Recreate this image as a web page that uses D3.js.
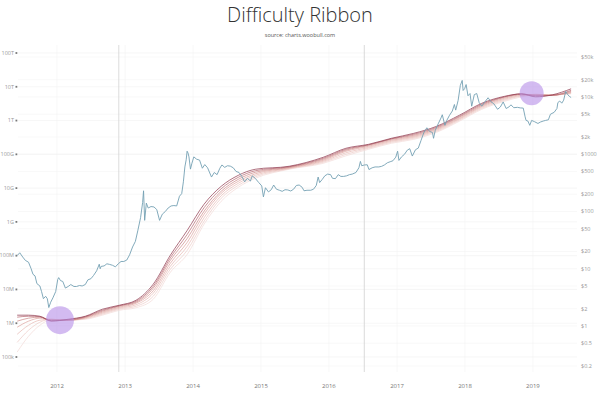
<!DOCTYPE html>
<html>
<head>
<meta charset="utf-8">
<script src="https://cdn.jsdelivr.net/npm/d3@7"></script>
<style>
  html, body { margin: 0; padding: 0; background: #fff; }
  svg { display: block; font-family: "Open Sans", "Noto Sans", sans-serif; }
</style>
</head>
<body>
<div id="chart"></div>
<script>
// year labels on the x axis
const years = [2012, 2013, 2014, 2015, 2016, 2017, 2018, 2019];
const halvings = ['2012-11-28', '2016-07-09'];

// left axis: difficulty ticks
const diffTicks = [1e5, 1e6, 1e7, 1e8, 1e9, 1e10, 1e11, 1e12, 1e13, 1e14];
const diffLabels = ['100k', '1M', '10M', '100M', '1G', '10G', '100G', '1T', '10T', '100T'];

// right axis: price ticks
const priceTicks = [0.2, 0.5, 1, 2, 5, 10, 20, 50, 100, 200, 500, 1000, 2000, 5000, 1e4, 2e4, 5e4];
const priceLabels = ['$0.2', '$0.5', '$1', '$2', '$5', '$10', '$20', '$50', '$100', '$200', '$500',
  '$1000', '$2k', '$5k', '$10k', '$20k', '$50k'];

// BTC price (USD)
const priceData = [
  ['2011-06-01', 17], ['2011-06-15', 19], ['2011-07-01', 16], ['2011-07-15', 14], ['2011-08-01', 13],
  ['2011-08-15', 10], ['2011-08-25', 8], ['2011-09-05', 7.5], ['2011-09-15', 5.5], ['2011-10-01', 5],
  ['2011-10-10', 4], ['2011-10-20', 3], ['2011-11-01', 3.3], ['2011-11-10', 3], ['2011-11-18', 2.1],
  ['2011-11-28', 2.6], ['2011-12-10', 3.1], ['2011-12-25', 4], ['2012-01-05', 6.5], ['2012-01-10', 7],
  ['2012-01-20', 6.2], ['2012-02-01', 6], ['2012-02-15', 4.6], ['2012-03-01', 4.9], ['2012-03-15', 5.3],
  ['2012-04-01', 4.9], ['2012-04-15', 4.9], ['2012-05-01', 5.1], ['2012-05-15', 5], ['2012-06-01', 5.3],
  ['2012-06-15', 6.4], ['2012-07-01', 6.7], ['2012-07-15', 7.6], ['2012-08-01', 9.2], ['2012-08-15', 12],
  ['2012-08-20', 10], ['2012-08-25', 11], ['2012-09-10', 11.2], ['2012-09-25', 12.2], ['2012-10-10', 11.9],
  ['2012-10-25', 11.5], ['2012-11-10', 10.8], ['2012-11-25', 12.2], ['2012-12-10', 13.4], ['2012-12-25', 13.4],
  ['2013-01-10', 14.2], ['2013-01-25', 17.5], ['2013-02-10', 24], ['2013-02-25', 30], ['2013-03-10', 46],
  ['2013-03-25', 78], ['2013-04-05', 143], ['2013-04-10', 230], ['2013-04-16', 70], ['2013-04-25', 140],
  ['2013-05-05', 115], ['2013-05-20', 122], ['2013-06-05', 120], ['2013-06-20', 108], ['2013-07-05', 70],
  ['2013-07-20', 90], ['2013-08-05', 100], ['2013-08-20', 115], ['2013-09-05', 125], ['2013-09-20', 127],
  ['2013-10-05', 125], ['2013-10-20', 185], ['2013-11-01', 205], ['2013-11-10', 330], ['2013-11-18', 600],
  ['2013-11-25', 800], ['2013-11-30', 1130], ['2013-12-05', 1050], ['2013-12-10', 900], ['2013-12-18', 550],
  ['2013-12-25', 680], ['2014-01-05', 900], ['2014-01-20', 820], ['2014-02-05', 790], ['2014-02-20', 570],
  ['2014-03-05', 660], ['2014-03-20', 580], ['2014-04-10', 400], ['2014-04-25', 480], ['2014-05-10', 440],
  ['2014-05-25', 570], ['2014-06-05', 650], ['2014-06-20', 590], ['2014-07-05', 630], ['2014-07-20', 620],
  ['2014-08-05', 580], ['2014-08-20', 500], ['2014-09-05', 480], ['2014-09-20', 410], ['2014-10-05', 330],
  ['2014-10-20', 380], ['2014-11-05', 340], ['2014-11-15', 420], ['2014-12-01', 380], ['2014-12-20', 320],
  ['2015-01-05', 280], ['2015-01-14', 180], ['2015-01-25', 260], ['2015-02-10', 220], ['2015-02-25', 240],
  ['2015-03-10', 290], ['2015-03-25', 245], ['2015-04-10', 235], ['2015-04-25', 225], ['2015-05-10', 240],
  ['2015-05-25', 238], ['2015-06-10', 228], ['2015-06-25', 245], ['2015-07-10', 285], ['2015-07-25', 290],
  ['2015-08-10', 265], ['2015-08-20', 230], ['2015-09-05', 235], ['2015-09-25', 235], ['2015-10-10', 245],
  ['2015-10-25', 285], ['2015-11-04', 400], ['2015-11-12', 320], ['2015-11-25', 360], ['2015-12-10', 420],
  ['2015-12-25', 450], ['2016-01-10', 440], ['2016-01-20', 380], ['2016-02-05', 375], ['2016-02-20', 440],
  ['2016-03-05', 410], ['2016-03-20', 410], ['2016-04-05', 420], ['2016-04-20', 440], ['2016-05-05', 450],
  ['2016-05-25', 480], ['2016-06-10', 580], ['2016-06-18', 750], ['2016-06-25', 630], ['2016-07-10', 650],
  ['2016-07-25', 655], ['2016-08-03', 540], ['2016-08-20', 580], ['2016-09-05', 600], ['2016-09-25', 600],
  ['2016-10-10', 615], ['2016-10-25', 650], ['2016-11-10', 710], ['2016-11-25', 740], ['2016-12-10', 770],
  ['2016-12-25', 890], ['2017-01-04', 1130], ['2017-01-11', 780], ['2017-01-25', 900], ['2017-02-10', 1000],
  ['2017-02-25', 1180], ['2017-03-10', 1250], ['2017-03-24', 930], ['2017-04-10', 1200], ['2017-04-25', 1280],
  ['2017-05-10', 1750], ['2017-05-25', 2400], ['2017-06-10', 2900], ['2017-06-25', 2500], ['2017-07-10', 2400],
  ['2017-07-16', 1900], ['2017-07-25', 2600], ['2017-08-10', 3400], ['2017-08-25', 4300], ['2017-09-01', 4900],
  ['2017-09-15', 3200], ['2017-09-25', 3900], ['2017-10-10', 4800], ['2017-10-25', 5700], ['2017-11-05', 7400],
  ['2017-11-12', 5900], ['2017-11-25', 8700], ['2017-12-07', 16000], ['2017-12-17', 19500], ['2017-12-22', 13000],
  ['2017-12-30', 14000], ['2018-01-07', 16500], ['2018-01-17', 10500], ['2018-01-28', 11500], ['2018-02-06', 6900],
  ['2018-02-20', 11000], ['2018-03-05', 11500], ['2018-03-18', 8000], ['2018-04-01', 6900], ['2018-04-15', 8000],
  ['2018-05-05', 9700], ['2018-05-20', 8300], ['2018-06-05', 7600], ['2018-06-25', 6100], ['2018-07-10', 6700],
  ['2018-07-25', 8200], ['2018-08-10', 6300], ['2018-08-25', 6700], ['2018-09-05', 7300], ['2018-09-20', 6500],
  ['2018-10-10', 6600], ['2018-10-25', 6450], ['2018-11-10', 6400], ['2018-11-20', 4500], ['2018-11-25', 3900],
  ['2018-12-05', 3800], ['2018-12-15', 3200], ['2018-12-25', 3900], ['2019-01-10', 3700], ['2019-01-28', 3450],
  ['2019-02-10', 3650], ['2019-02-25', 3800], ['2019-03-10', 3900], ['2019-03-25', 4000], ['2019-04-05', 5000],
  ['2019-04-25', 5400], ['2019-05-10', 6300], ['2019-05-15', 8000], ['2019-05-25', 8500], ['2019-06-05', 7800],
  ['2019-06-15', 8800], ['2019-06-26', 12500], ['2019-07-05', 11200], ['2019-07-15', 10300], ['2019-07-25', 9800]
];

// difficulty ribbon: moving averages of difficulty, sampled at these dates
const ribbonDates = ['2011-06-01', '2011-08-01', '2011-10-01', '2011-12-01', '2012-03-01', '2012-06-01',
  '2012-09-01', '2012-12-01', '2013-03-01', '2013-06-01', '2013-09-01', '2013-12-01', '2014-03-01',
  '2014-06-01', '2014-09-01', '2014-12-01', '2015-06-01', '2015-12-01', '2016-04-01', '2016-08-01',
  '2016-12-01', '2017-04-01', '2017-08-01', '2017-12-01', '2018-04-01', '2018-08-01', '2018-11-01',
  '2019-01-15', '2019-04-15', '2019-07-25'];
const ma14 = [1.73e6, 1.73e6, 1.61e6, 1.15e6, 1.31e6, 1.61e6, 2.60e6, 3.41e6, 4.80e6, 14.3e6, 103e6, 565e6,
  3.33e9, 11.3e9, 23.9e9, 36.1e9, 44.3e9, 81.7e9, 151e9, 198e9, 298e9, 419e9, 675e9, 1.43e12, 3.24e12,
  5.21e12, 6.18e12, 5.04e12, 5.77e12, 8.69e12];
const ma25 = [1.51e6, 1.61e6, 1.56e6, 1.19e6, 1.27e6, 1.56e6, 2.42e6, 3.30e6, 4.48e6, 12.4e6, 86.7e6, 430e6,
  2.62e9, 9.55e9, 20.9e9, 32.6e9, 42.8e9, 76.2e9, 141e9, 191e9, 288e9, 392e9, 631e9, 1.33e12, 3.02e12,
  5.04e12, 6.18e12, 5.39e12, 5.58e12, 7.85e12];
const ma40 = [1.15e6, 1.41e6, 1.51e6, 1.23e6, 1.23e6, 1.51e6, 2.27e6, 3.18e6, 4.18e6, 10.9e6, 73.1e6, 327e6,
  2.06e9, 8.05e9, 18.2e9, 29.4e9, 41.3e9, 71.3e9, 132e9, 185e9, 278e9, 366e9, 589e9, 1.25e12, 2.82e12,
  4.87e12, 5.97e12, 5.58e12, 5.58e12, 7.34e12];
const ma60 = [0.76e6, 1.15e6, 1.41e6, 1.27e6, 1.23e6, 1.46e6, 2.12e6, 2.97e6, 3.91e6, 9.16e6, 59.7e6, 249e6,
  1.68e9, 7.03e9, 15.9e9, 26.5e9, 39.9e9, 66.5e9, 123e9, 173e9, 260e9, 341e9, 551e9, 1.16e12, 2.64e12,
  4.55e12, 5.77e12, 5.77e12, 5.58e12, 6.86e12];
const ma90 = [0.47e6, 0.87e6, 1.23e6, 1.31e6, 1.23e6, 1.41e6, 1.98e6, 2.78e6, 3.53e6, 7.73e6, 48.6e6, 190e6,
  1.32e9, 5.93e9, 13.9e9, 23.9e9, 38.6e9, 62.2e9, 111e9, 161e9, 243e9, 319e9, 514e9, 1.09e12, 2.47e12,
  4.25e12, 5.58e12, 5.97e12, 5.77e12, 6.63e12];
const ma128 = [0.27e6, 0.62e6, 1.07e6, 1.31e6, 1.23e6, 1.36e6, 1.85e6, 2.60e6, 3.18e6, 6.30e6, 39.6e6, 145e6,
  1.04e9, 5.00e9, 12.1e9, 21.6e9, 37.3e9, 58.1e9, 100e9, 151e9, 227e9, 298e9, 480e9, 1.02e12, 2.30e12,
  3.97e12, 5.39e12, 5.97e12, 5.77e12, 6.40e12];
const ma200 = [0.14e6, 0.41e6, 0.87e6, 1.27e6, 1.23e6, 1.31e6, 1.73e6, 2.42e6, 2.88e6, 5.13e6, 32.3e6, 110e6,
  0.85e9, 4.07e9, 10.6e9, 19.5e9, 36.1e9, 54.2e9, 90.4e9, 141e9, 212e9, 278e9, 449e9, 0.95e12, 2.15e12,
  3.71e12, 5.04e12, 5.77e12, 5.77e12, 6.18e12];

// highlighted spots (date, difficulty)
const highlights = [['2012-01-17', 1.23e6], ['2018-12-25', 6.4e12]];

const W = 600, H = 393;
const plot = { left: 18, right: 577, top: 45, bottom: 372 };
const parse = d3.timeParse('%Y-%m-%d');

const svg = d3.select('#chart').append('svg')
  .attr('width', W).attr('height', H);

const x = d3.scaleTime()
  .domain([new Date(2012, 0, 1), new Date(2018, 0, 1)])
  .range([57, 465]);
const yDiff = d3.scaleLog().domain([1e5, 1e14]).range([357, 53]);
const yPrice = d3.scaleLog().domain([1, 1e4]).range([326, 97]);

// title
svg.append('text')
  .attr('x', W / 2).attr('y', 22)
  .attr('text-anchor', 'middle')
  .style('font-size', '20px').style('font-weight', 300).style('fill', '#333')
  .text('Difficulty Ribbon');
svg.append('text')
  .attr('x', W / 2).attr('y', 37)
  .attr('text-anchor', 'middle')
  .style('font-size', '5.5px').style('fill', '#555')
  .text('source: charts.woobull.com');

// grid
const grid = svg.append('g');
grid.selectAll('.gd').data(diffTicks).enter().append('line')
  .attr('x1', plot.left).attr('x2', plot.right)
  .attr('y1', d => yDiff(d)).attr('y2', d => yDiff(d))
  .style('stroke', '#f0f0f0').style('stroke-width', 0.6);
grid.selectAll('.gp').data(priceTicks).enter().append('line')
  .attr('x1', plot.left).attr('x2', plot.right)
  .attr('y1', d => yPrice(d)).attr('y2', d => yPrice(d))
  .style('stroke', '#f3f3f3').style('stroke-width', 0.6);
grid.selectAll('.gx').data(years).enter().append('line')
  .attr('x1', d => x(new Date(d, 0, 1))).attr('x2', d => x(new Date(d, 0, 1)))
  .attr('y1', plot.top).attr('y2', plot.bottom)
  .style('stroke', '#f3f3f3').style('stroke-width', 0.6);

// halving markers
svg.selectAll('.halving').data(halvings).enter().append('line')
  .attr('x1', d => x(parse(d))).attr('x2', d => x(parse(d)))
  .attr('y1', plot.top).attr('y2', plot.bottom)
  .style('stroke', '#d2d2d2').style('stroke-width', 0.8);

// left axis labels
const left = svg.append('g');
left.selectAll('text').data(diffTicks).enter().append('text')
  .attr('x', 14).attr('y', d => yDiff(d) + 1.8)
  .attr('text-anchor', 'end')
  .style('font-size', '5.5px').style('fill', '#999')
  .text((d, i) => diffLabels[i]);
left.selectAll('rect').data(diffTicks).enter().append('rect')
  .attr('x', 15.5).attr('y', d => yDiff(d) - 0.9)
  .attr('width', 1.8).attr('height', 1.8)
  .style('fill', '#777');

// right axis labels
svg.append('g').selectAll('text').data(priceTicks).enter().append('text')
  .attr('x', 581).attr('y', d => yPrice(d) + 1.8)
  .style('font-size', '5.5px').style('fill', '#999')
  .text((d, i) => priceLabels[i]);

// year labels
svg.append('g').selectAll('text').data(years).enter().append('text')
  .attr('x', d => x(new Date(d, 0, 1))).attr('y', 388)
  .attr('text-anchor', 'middle')
  .style('font-size', '6px').style('fill', '#777')
  .text(d => d);

// ribbon, slowest average first so the fast one sits on top
const ribbon = [ma200, ma128, ma90, ma60, ma40, ma25, ma14];
const ribbonColors = ['#f2dad7', '#edcac6', '#e6b7b2', '#dca19c', '#cc8685', '#b4636b', '#8c3349'];
const diffLine = d3.line()
  .x(d => x(d[0]))
  .y(d => yDiff(d[1]))
  .curve(d3.curveMonotoneX);
const ribbonDatesParsed = ribbonDates.map(parse);

svg.append('g').selectAll('path').data(ribbon).enter().append('path')
  .attr('d', vals => diffLine(vals.map((v, i) => [ribbonDatesParsed[i], v])))
  .style('fill', 'none')
  .style('stroke', (d, i) => ribbonColors[i])
  .style('stroke-width', 0.7);

// price
const priceLine = d3.line()
  .x(d => x(parse(d[0])))
  .y(d => yPrice(d[1]));
svg.append('path')
  .attr('d', priceLine(priceData))
  .style('fill', 'none')
  .style('stroke', '#74a0b3')
  .style('stroke-width', 0.9);

// highlight circles
svg.append('g').selectAll('circle').data(highlights).enter().append('circle')
  .attr('cx', d => x(parse(d[0])))
  .attr('cy', d => yDiff(d[1]))
  .attr('r', (d, i) => i === 0 ? 14 : 12)
  .style('fill', '#b58de8')
  .style('fill-opacity', 0.6);
</script>
</body>
</html>
